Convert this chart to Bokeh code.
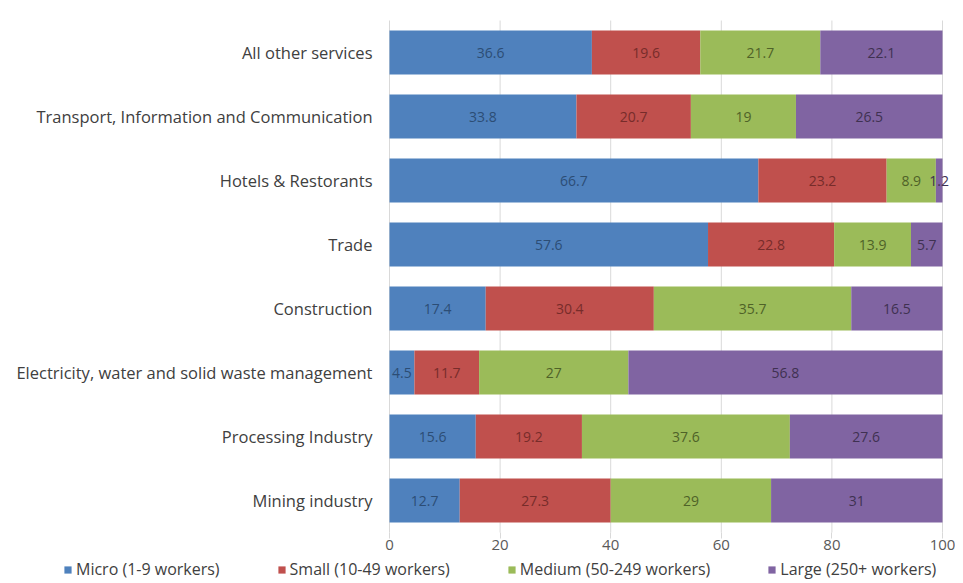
from bokeh.plotting import figure
from bokeh.models import (ColumnDataSource, Legend, LegendItem, Range1d,
                          FixedTicker, LinearAxis)
from bokeh.core.properties import value
from bokeh.embed import file_html
from bokeh.resources import INLINE

categories = [
    "All other services",
    "Transport, Information and Communication",
    "Hotels & Restorants",
    "Trade",
    "Construction",
    "Electricity, water and solid waste management",
    "Processing Industry",
    "Mining industry",
]
micro = [36.6, 33.8, 66.7, 57.6, 17.4, 4.5, 15.6, 12.7]
small = [19.6, 20.7, 23.2, 22.8, 30.4, 11.7, 19.2, 27.3]
medium = [21.7, 19.0, 8.9, 13.9, 35.7, 27.0, 37.6, 29.0]
large = [22.1, 26.5, 1.2, 5.7, 16.5, 56.8, 27.6, 31.0]
series_names = ["Micro (1-9 workers)", "Small (10-49 workers)",
                "Medium (50-249 workers)", "Large (250+ workers)"]
x_ticks = [0, 20, 40, 60, 80, 100]

bar_colors = ["#4F81BD", "#C0504D", "#9BBB59", "#8064A2"]
text_colors = ["#2C4D75", "#772C2A", "#4F6228", "#3F3151"]
FONT = "Open Sans"

n = len(categories)
ypos = [n - 1 - i for i in range(n)]          # top category drawn highest

W, H = 955, 580
x0_px, x100_px = 389, 942                      # where 0 and 100 sit
ppu = (x100_px - x0_px) / 100.0
row_px = 64.0
top_px = 20.0                                  # top of the category band

x_range = Range1d(-x0_px / ppu, (W - x0_px) / ppu)
y_end = (n - 0.5) + top_px / row_px
y_range = Range1d(y_end - H / row_px, y_end)

p = figure(width=W, height=H, output_backend="svg", toolbar_location=None,
           x_range=x_range, y_range=y_range, x_axis_type=None, y_axis_type=None,
           min_border=0)
p.outline_line_color = None
p.grid.visible = False

# vertical grid lines spanning the category band
p.segment(x0=x_ticks, x1=x_ticks, y0=[-0.5] * len(x_ticks),
          y1=[n - 0.5] * len(x_ticks), line_color="#D9D9D9", line_width=1)

series = [micro, small, medium, large]
items = []
left = [0.0] * n
for vals, name, bc, tc in zip(series, series_names, bar_colors, text_colors):
    right = [l + v for l, v in zip(left, vals)]
    mid = [(l + r) / 2 for l, r in zip(left, right)]
    src = ColumnDataSource(dict(y=ypos, left=left, right=right, mid=mid,
                                lab=[("%g" % v) for v in vals]))
    r = p.hbar(y="y", left="left", right="right", height=0.69, source=src,
               fill_color=bc, line_color=None)
    p.text(x="mid", y="y", text="lab", source=src, text_align="center",
           text_baseline="middle", text_color=tc, text_font=value(FONT),
           text_font_size="14px")
    items.append(LegendItem(label=name, renderers=[r]))
    left = right

xaxis = LinearAxis(fixed_location=-0.5, ticker=FixedTicker(ticks=x_ticks))
xaxis.axis_line_color = None
xaxis.major_tick_out = 6
xaxis.major_tick_in = 0
xaxis.major_tick_line_color = "#D9D9D9"
xaxis.minor_tick_line_color = None
xaxis.major_label_text_font = FONT
xaxis.major_label_text_font_size = "15px"
xaxis.major_label_text_color = "#595959"
xaxis.major_label_standoff = 1
p.add_layout(xaxis, "below")

yaxis = LinearAxis(fixed_location=0, ticker=FixedTicker(ticks=ypos),
                   major_label_overrides={y: c for y, c in zip(ypos, categories)})
yaxis.axis_line_color = None
yaxis.major_tick_line_color = None
yaxis.minor_tick_line_color = None
yaxis.major_label_text_font = FONT
yaxis.major_label_text_font_size = "16.5px"
yaxis.major_label_text_color = "#404040"
yaxis.major_label_standoff = 11
p.add_layout(yaxis, "left")

legend = Legend(items=items, orientation="horizontal", location=(63, 0),
                padding=0, spacing=57, margin=0, glyph_width=9, glyph_height=9,
                label_standoff=4, label_text_font=FONT,
                label_text_font_size="16px", label_text_color="#404040",
                background_fill_alpha=0, border_line_color=None)
p.add_layout(legend, "center")

open("out.html", "w").write(file_html(p, INLINE))
